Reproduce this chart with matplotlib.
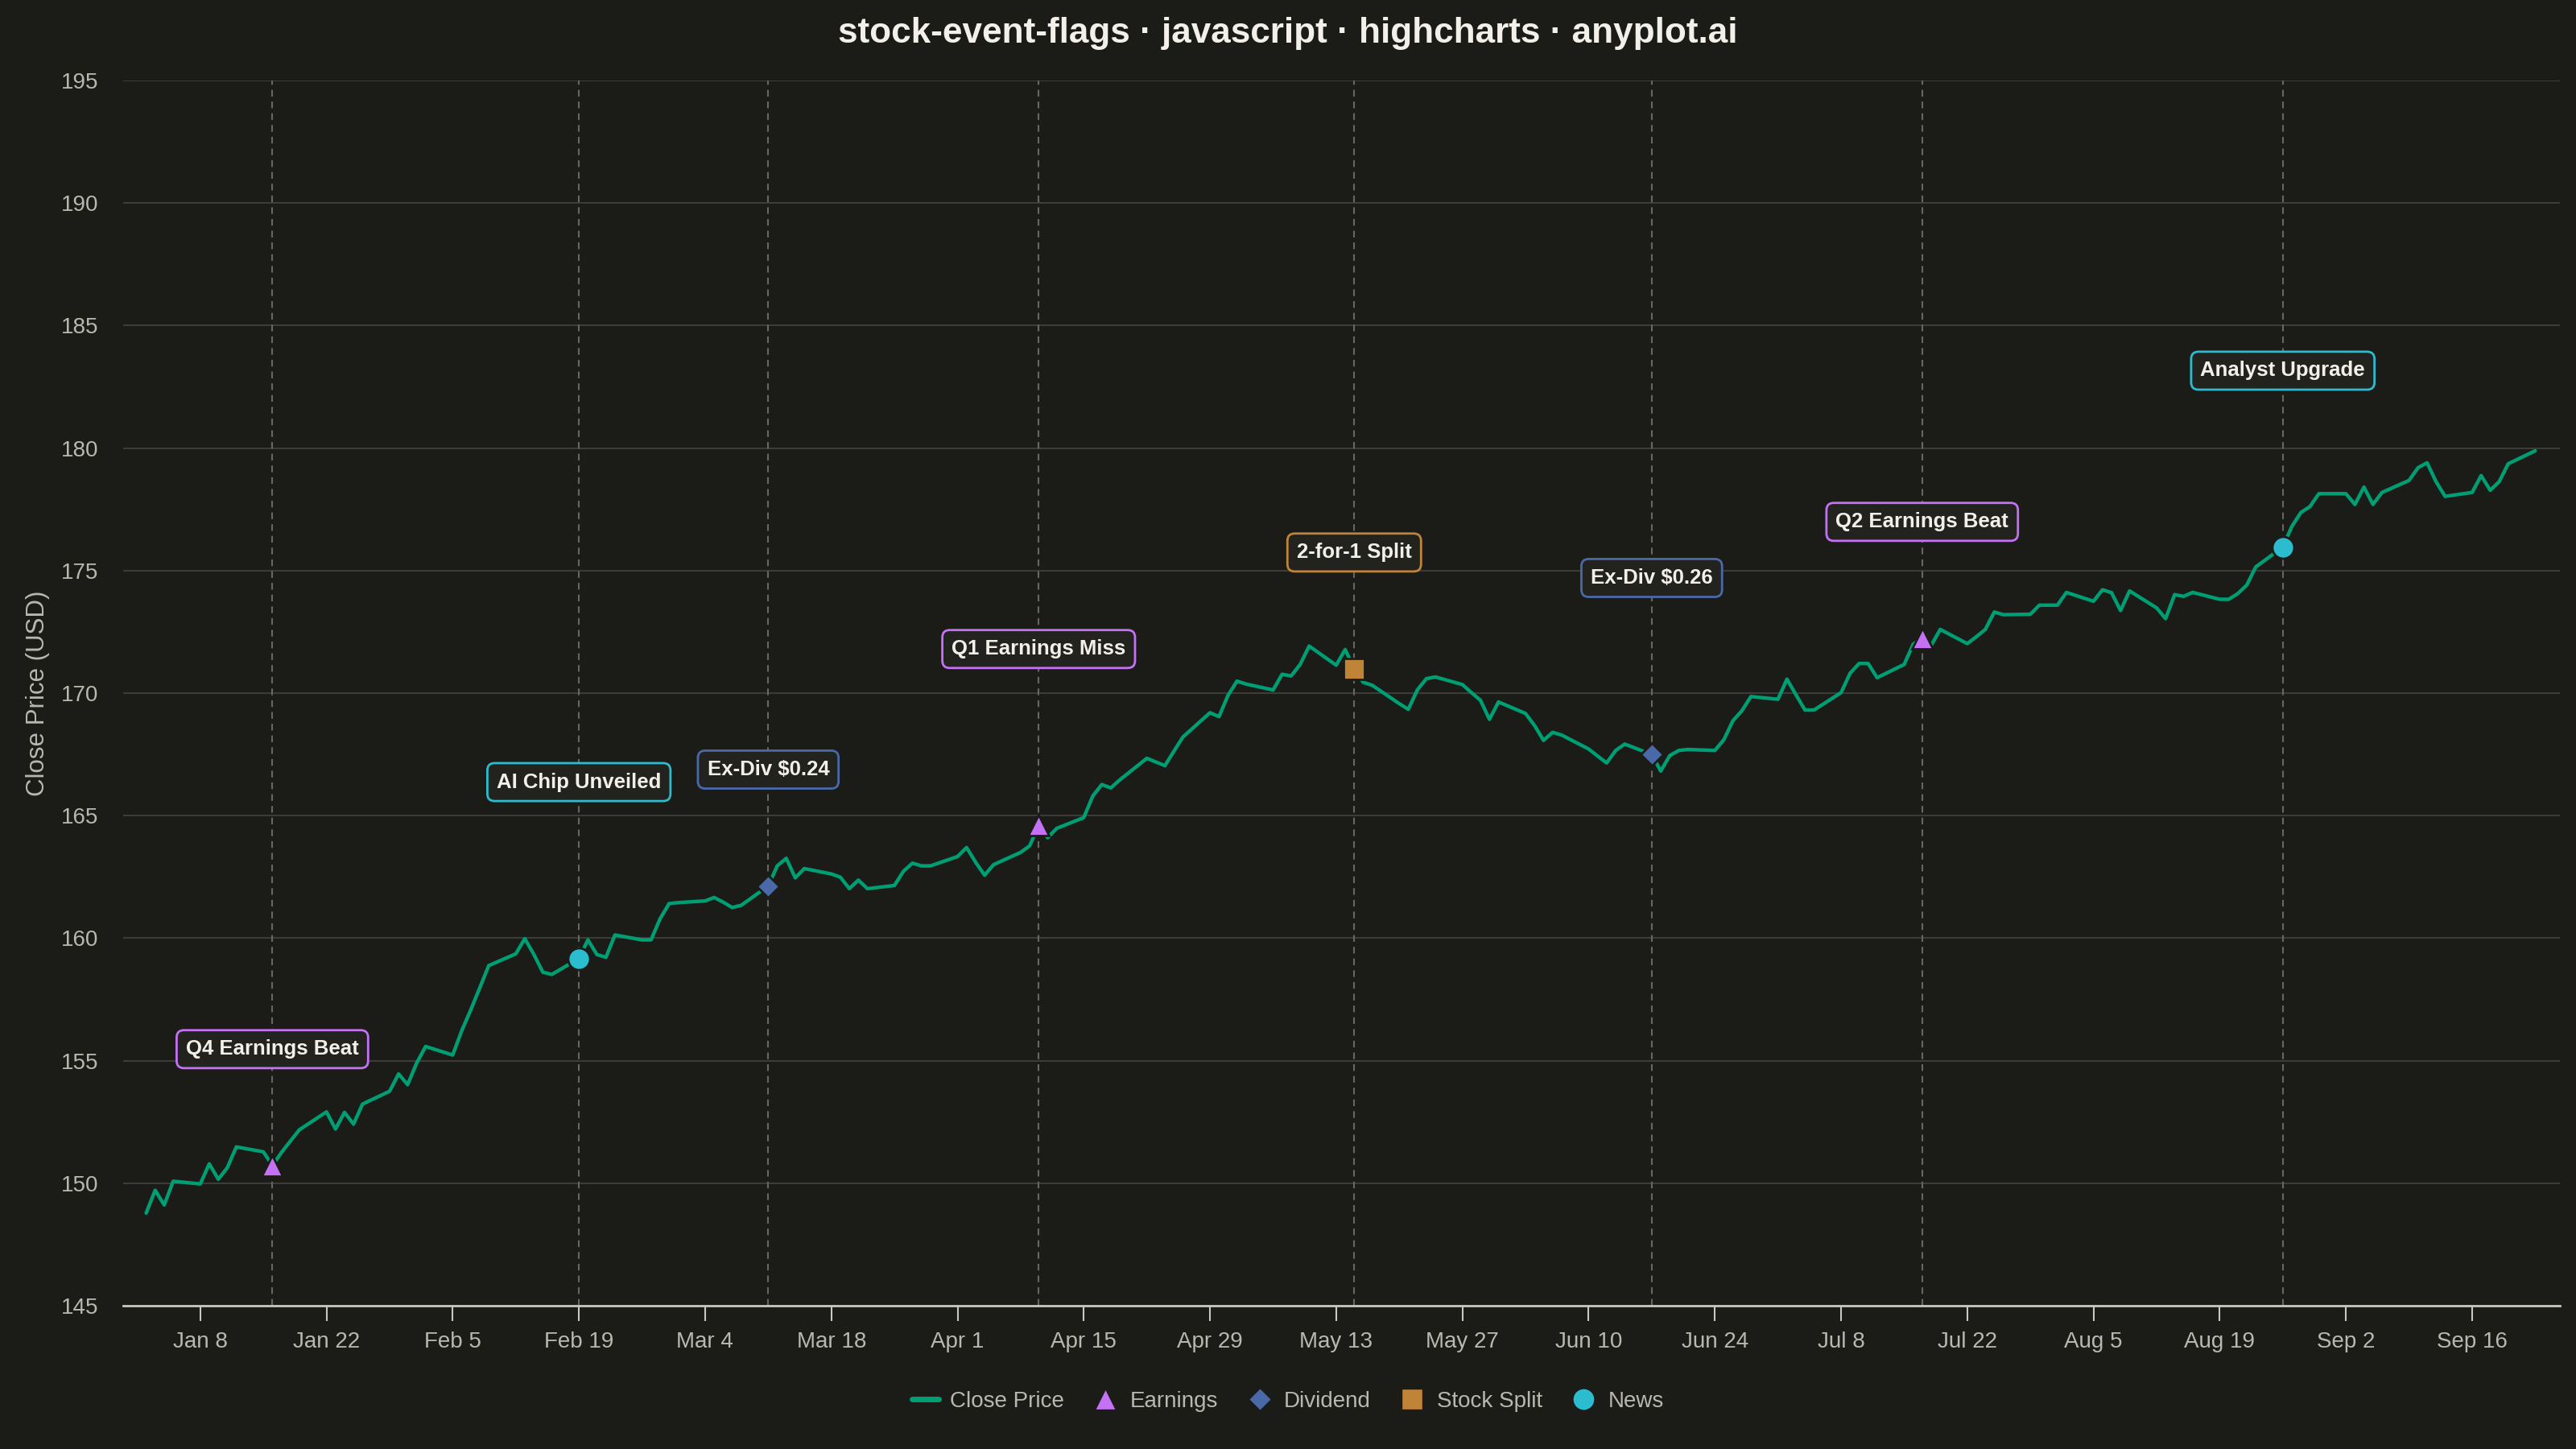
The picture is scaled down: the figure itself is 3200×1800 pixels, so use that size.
import numpy as np
import pandas as pd
import matplotlib
matplotlib.use("Agg")
import matplotlib.pyplot as plt
from matplotlib.lines import Line2D

plt.rcParams['font.family'] = ['Liberation Sans', 'DejaVu Sans']

# daily close, business days 2024-01-02 .. 2024-09-23
close_price = [
    148.78, 149.71, 149.11, 150.08,
    149.97, 150.79, 150.16, 150.63, 151.48,
    151.28, 150.72, 151.25, 151.72, 152.18,
    152.91, 152.21, 152.89, 152.41, 153.23,
    153.75, 154.46, 154.02, 154.90, 155.58,
    155.23, 156.22, 157.07, 157.97, 158.88,
    159.36, 159.98, 159.34, 158.61, 158.52,
    159.17, 159.93, 159.33, 159.22, 160.13,
    159.93, 159.93, 160.79, 161.41, 161.45,
    161.52, 161.66, 161.47, 161.25, 161.34,
    162.13, 162.95, 163.26, 162.46, 162.84,
    162.62, 162.49, 162.02, 162.37, 162.02,
    162.15, 162.73, 163.06, 162.95, 162.95,
    163.33, 163.70, 163.10, 162.57, 163.00,
    163.50, 163.77, 164.60, 164.10, 164.48,
    164.92, 165.80, 166.27, 166.13, 166.46,
    167.34, 167.19, 167.04, 167.63, 168.21,
    169.20, 169.04, 169.91, 170.49, 170.37,
    170.13, 170.77, 170.70, 171.17, 171.92,
    171.14, 171.78, 170.99, 170.44, 170.32,
    169.57, 169.34, 170.13, 170.59, 170.66,
    170.35, 170.02, 169.71, 168.93, 169.64,
    169.17, 168.68, 168.07, 168.40, 168.29,
    167.72, 167.43, 167.15, 167.66, 167.92,
    167.50, 166.82, 167.45, 167.66, 167.70,
    167.66, 168.10, 168.87, 169.28, 169.86,
    169.75, 170.57, 169.93, 169.31, 169.31,
    170.02, 170.81, 171.21, 171.21, 170.63,
    171.17, 172.00, 172.24, 171.95, 172.60,
    172.02, 172.30, 172.60, 173.31, 173.20,
    173.22, 173.59, 173.59, 173.59, 174.11,
    173.75, 174.22, 174.10, 173.37, 174.17,
    173.48, 173.04, 174.02, 173.95, 174.11,
    173.83, 173.83, 174.06, 174.41, 175.15,
    175.96, 176.80, 177.37, 177.61, 178.14,
    178.14, 177.70, 178.41, 177.70, 178.19,
    178.68, 179.20, 179.40, 178.63, 178.03,
    178.19, 178.88, 178.28, 178.63, 179.36,
    179.89,
]
dates = pd.bdate_range('2024-01-02', '2024-09-23')
prices = pd.Series(close_price, index=dates)

event_dates = ['2024-01-16', '2024-02-19', '2024-03-11', '2024-04-10',
               '2024-05-15', '2024-06-17', '2024-07-17', '2024-08-26']
event_types = ['Earnings', 'News', 'Dividend', 'Earnings',
               'Stock Split', 'Dividend', 'Earnings', 'News']
event_labels = ['Q4 Earnings Beat', 'AI Chip Unveiled', 'Ex-Div $0.24', 'Q1 Earnings Miss',
                '2-for-1 Split', 'Ex-Div $0.26', 'Q2 Earnings Beat', 'Analyst Upgrade']

tick_dates = pd.date_range('2024-01-08', '2024-09-16', freq='14D')
tick_labels = ['Jan 8', 'Jan 22', 'Feb 5', 'Feb 19', 'Mar 4', 'Mar 18', 'Apr 1', 'Apr 15',
               'Apr 29', 'May 13', 'May 27', 'Jun 10', 'Jun 24', 'Jul 8', 'Jul 22', 'Aug 5',
               'Aug 19', 'Sep 2', 'Sep 16']

# styling
bg = '#1b1b17'
line_col = '#009e73'
styles = {
    'Earnings':    dict(marker='^', color='#c471f5', ms=18.5),
    'Dividend':    dict(marker='D', color='#4a69a8', ms=14.5),
    'Stock Split': dict(marker='s', color='#c08438', ms=18.5),
    'News':        dict(marker='o', color='#2bbdcf', ms=19.5),
}
label_offsets = [4.75, 7.2]
text_col = '#f2f0e8'
tick_col = '#b9b8b0'

fig = plt.figure(figsize=(32, 18), dpi=100, facecolor=bg)
ax = fig.add_axes([0.0477, 0.0989, 0.9461, 0.8455])
ax.set_facecolor(bg)

ax.plot(prices.index, prices.values, color=line_col, lw=3.2, zorder=3,
        solid_joinstyle='round', solid_capstyle='round')

for i, (d, kind, lab) in enumerate(zip(event_dates, event_types, event_labels)):
    d = pd.Timestamp(d)
    y = prices[d]
    st = styles[kind]
    ax.axvline(d, color='#68675f', lw=1.5, ls=(0, (4, 3)), zorder=1)
    ax.plot([d], [y], linestyle='none', marker=st['marker'], ms=st['ms'],
            color=st['color'], mec=bg, mew=2, zorder=4)
    ax.text(d, y + label_offsets[i % 2], lab, ha='center', va='center',
            fontsize=18.5, fontweight='bold', color=text_col, zorder=6,
            bbox=dict(boxstyle='round,pad=0.45,rounding_size=0.35',
                      fc='#22221f', ec=st['color'], lw=2))

ax.set_ylim(145, 195)
ax.set_yticks(np.arange(145, 196, 5))
ax.set_xlim(pd.Timestamp('2023-12-30 10:00'), pd.Timestamp('2024-09-25 18:00'))
ax.set_xticks(tick_dates)
ax.set_xticklabels(tick_labels)

ax.yaxis.grid(True, color='#3d3c38', lw=1.5)
ax.set_axisbelow(True)
for s in ['top', 'right', 'left']:
    ax.spines[s].set_visible(False)
ax.spines['bottom'].set_color('#c8c8c0')
ax.spines['bottom'].set_linewidth(2)

ax.tick_params(axis='y', length=0, pad=22, labelsize=20, labelcolor=tick_col)
ax.tick_params(axis='x', length=14, width=1.5, color='#c8c8c0', pad=9,
               labelsize=20, labelcolor=tick_col)
ax.set_ylabel('Close Price (USD)', fontsize=22.5, color=tick_col, labelpad=10)

fig.text(0.5, 0.977, 'stock-event-flags · javascript · highcharts · anyplot.ai',
         ha='center', va='center', fontsize=31.8, fontweight='bold', color=text_col)

handles = [Line2D([0], [0], color=line_col, lw=5, solid_capstyle='round', label='Close Price')]
for kind in ['Earnings', 'Dividend', 'Stock Split', 'News']:
    st = styles[kind]
    handles.append(Line2D([0], [0], linestyle='none', marker=st['marker'], ms=st['ms'],
                          color=st['color'], mec=bg, mew=1, label=kind))
leg = fig.legend(handles=handles, loc='center', bbox_to_anchor=(0.5, 0.033), ncol=5,
                 frameon=False, fontsize=20, handlelength=1.2, handletextpad=0.5,
                 columnspacing=1.25)
for t in leg.get_texts():
    t.set_color(tick_col)

fig.savefig('out.png', dpi=100, facecolor=bg)
